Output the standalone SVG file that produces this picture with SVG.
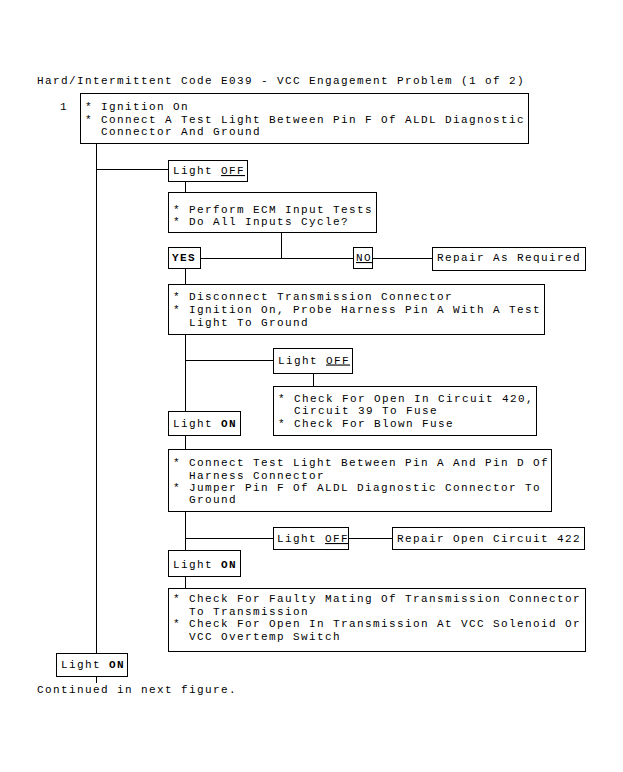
<svg xmlns="http://www.w3.org/2000/svg" width="623" height="772" viewBox="0 0 623 772">
<style>
text{font-family:"Liberation Mono","DejaVu Sans Mono",monospace;font-size:11px;letter-spacing:1.4px;fill:#000}
.b{fill:#fff;stroke:#000;stroke-width:1}
.c{stroke:#000;stroke-width:1;fill:none}
.bold{font-weight:bold}
.u{text-decoration:underline}
</style>
<rect width="623" height="772" fill="#fff"/>
<text x="37" y="84">Hard/Intermittent Code E039 - VCC Engagement Problem (1 of 2)</text>
<g id="connectors">
<path class="c" d="M96.5 144V653M96.5 676V683M96 169.5H168M185.5 182V192M281.5 233V258.5M201 258.5H353M373 258.5H432M185.5 269V284M185.5 335V411M185 360.5H273M313.5 373V386M185.5 436V449M185.5 512V550M185 538.5H273M349 538.5H392M185.5 577V588"/>
</g>
<g id="n1">
<text x="60" y="110">1</text>
<rect class="b" x="80.5" y="93.5" width="448" height="50"/>
<text x="85" y="110">* Ignition On</text>
<text x="85" y="122.5">* Connect A Test Light Between Pin F Of ALDL Diagnostic</text>
<text x="101" y="134.5">Connector And Ground</text>
</g>
<g id="n2">
<rect class="b" x="168.5" y="160.5" width="79" height="21"/>
<text x="173" y="174">Light <tspan class="u">OFF</tspan></text>
</g>
<g id="n3">
<rect class="b" x="168.5" y="192.5" width="208" height="40"/>
<text x="173" y="212.5">* Perform ECM Input Tests</text>
<text x="173" y="224.5">* Do All Inputs Cycle?</text>
</g>
<g id="n4">
<rect class="b" x="168.5" y="247.5" width="32" height="21"/>
<text x="172" y="261" class="bold">YES</text>
</g>
<g id="n5">
<rect class="b" x="353.5" y="247.5" width="19" height="21"/>
<text x="356" y="261" class="u">NO</text>
</g>
<g id="n6">
<rect class="b" x="432.5" y="247.5" width="153" height="23"/>
<text x="437" y="261">Repair As Required</text>
</g>
<g id="n7">
<rect class="b" x="168.5" y="284.5" width="376" height="50"/>
<text x="173" y="300">* Disconnect Transmission Connector</text>
<text x="173" y="313">* Ignition On, Probe Harness Pin A With A Test</text>
<text x="189" y="325.5">Light To Ground</text>
</g>
<g id="n8">
<rect class="b" x="273.5" y="348.5" width="79" height="25"/>
<text x="278" y="363.5">Light <tspan class="u">OFF</tspan></text>
</g>
<g id="n9">
<rect class="b" x="273.5" y="386.5" width="263" height="49"/>
<text x="278" y="401.5">* Check For Open In Circuit 420,</text>
<text x="294" y="414">Circuit 39 To Fuse</text>
<text x="278" y="426.5">* Check For Blown Fuse</text>
</g>
<g id="n10">
<rect class="b" x="168.5" y="411.5" width="72" height="24"/>
<text x="173" y="427">Light <tspan class="bold">ON</tspan></text>
</g>
<g id="n11">
<rect class="b" x="168.5" y="449.5" width="383" height="62"/>
<text x="173" y="466">* Connect Test Light Between Pin A And Pin D Of</text>
<text x="189" y="478.5">Harness Connector</text>
<text x="173" y="491">* Jumper Pin F Of ALDL Diagnostic Connector To</text>
<text x="189" y="503">Ground</text>
</g>
<g id="n12">
<rect class="b" x="273.5" y="527.5" width="75" height="22"/>
<text x="277" y="542">Light <tspan class="u">OFF</tspan></text>
</g>
<g id="n13">
<rect class="b" x="392.5" y="527.5" width="192" height="22"/>
<text x="397" y="542">Repair Open Circuit 422</text>
</g>
<g id="n14">
<rect class="b" x="168.5" y="550.5" width="72" height="26"/>
<text x="173" y="568">Light <tspan class="bold">ON</tspan></text>
</g>
<g id="n15">
<rect class="b" x="168.5" y="588.5" width="417" height="63"/>
<text x="173" y="602">* Check For Faulty Mating Of Transmission Connector</text>
<text x="189" y="614.5">To Transmission</text>
<text x="173" y="627">* Check For Open In Transmission At VCC Solenoid Or</text>
<text x="189" y="639.5">VCC Overtemp Switch</text>
</g>
<g id="n16">
<rect class="b" x="56.5" y="653.5" width="71" height="23"/>
<text x="61" y="668">Light <tspan class="bold">ON</tspan></text>
</g>
<text x="37" y="693">Continued in next figure.</text>
</svg>
